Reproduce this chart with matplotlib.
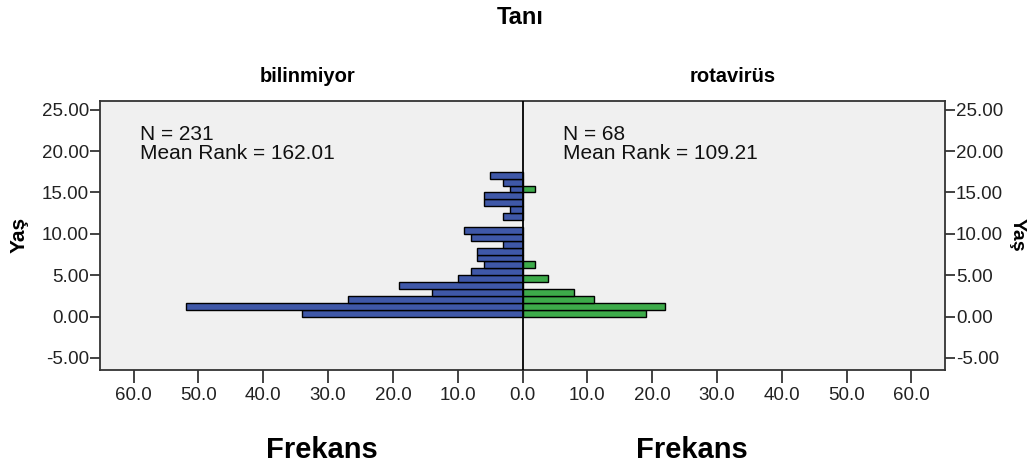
import matplotlib
matplotlib.use("Agg")
import matplotlib.pyplot as plt
import numpy as np
from matplotlib.ticker import FuncFormatter

plt.rcParams["font.family"] = ["Liberation Sans", "DejaVu Sans"]
plt.rcParams["axes.unicode_minus"] = False

# age bins (bottom -> top), counts per group
bin_width = 17.5 / 21
bilinmiyor = [34, 52, 27, 14, 19, 10, 8, 6, 7, 7, 3, 8, 9, 0, 3, 2, 6, 6, 2, 3, 5]
rotavirus = [19, 22, 11, 8, 0, 4, 0, 2, 0, 0, 0, 0, 0, 0, 0, 0, 0, 0, 2, 0, 0]
stats_left = "N = 231\nMean Rank = 162.01"
stats_right = "N = 68\nMean Rank = 109.21"
y_ticks = [-5, 0, 5, 10, 15, 20, 25]
x_ticks = [-60, -50, -40, -30, -20, -10, 0, 10, 20, 30, 40, 50, 60]

W, H = 1028, 470
fig = plt.figure(figsize=(W / 100, H / 100), dpi=100)
ax = fig.add_axes([100 / W, 100 / H, 845 / W, 269 / H])
ax.set_facecolor("#f0f0f0")

centers = (np.arange(len(bilinmiyor)) + 0.5) * bin_width
b = np.array(bilinmiyor)
r = np.array(rotavirus)
mb = b > 0
mr = r > 0
ax.barh(centers[mb], -b[mb], height=bin_width, color="#3f58a8",
        edgecolor="black", linewidth=1.0, zorder=2)
ax.barh(centers[mr], r[mr], height=bin_width, color="#3dab4a",
        edgecolor="black", linewidth=1.0, zorder=2)
ax.axvline(0, color="black", linewidth=1.3, zorder=3)

ax.set_xlim(-65.2, 65.2)
ax.set_ylim(-6.45, 26.05)
ax.set_xticks(x_ticks)
ax.set_yticks(y_ticks)
ax.xaxis.set_major_formatter(FuncFormatter(lambda v, p: f"{abs(v):.1f}"))
ax.yaxis.set_major_formatter(FuncFormatter(lambda v, p: f"{v:.2f}"))
ax.yaxis.set_ticks_position("both")
ax.tick_params(axis="y", labelright=True, length=9, width=1.2, pad=1,
               labelsize=13.5, colors="#222222")
ax.tick_params(axis="y", which="major", right=True, length=7)
ax.tick_params(axis="x", length=9, width=1.2, pad=3, labelsize=13.5,
               colors="#222222")
for s in ax.spines.values():
    s.set_linewidth(1.3)
    s.set_color("#333333")

ax.text(0.047, 0.912, stats_left, transform=ax.transAxes, fontsize=15,
        va="top", ha="left", linespacing=1.05, color="#111111")
ax.text(0.548, 0.912, stats_right, transform=ax.transAxes, fontsize=15,
        va="top", ha="left", linespacing=1.05, color="#111111")

fig.text(520 / W, 1 - 18 / H, "Tanı", fontsize=17, fontweight="bold",
         ha="center", va="center")
fig.text(308 / W, 1 - 77 / H, "bilinmiyor", fontsize=14.5, fontweight="bold",
         ha="center", va="center")
fig.text(733 / W, 1 - 77 / H, "rotavirüs", fontsize=14.5, fontweight="bold",
         ha="center", va="center")
fig.text(19 / W, 1 - 235 / H, "Yaş", fontsize=15, fontweight="bold",
         rotation=90, ha="center", va="center")
fig.text(1017 / W, 1 - 235 / H, "Yaş", fontsize=14, fontweight="bold",
         rotation=-90, ha="center", va="center")
fig.text(322 / W, 1 - 450 / H, "Frekans", fontsize=21, fontweight="bold",
         ha="center", va="center")
fig.text(692 / W, 1 - 450 / H, "Frekans", fontsize=21, fontweight="bold",
         ha="center", va="center")

fig.savefig("out.png", dpi=100, facecolor="white")
